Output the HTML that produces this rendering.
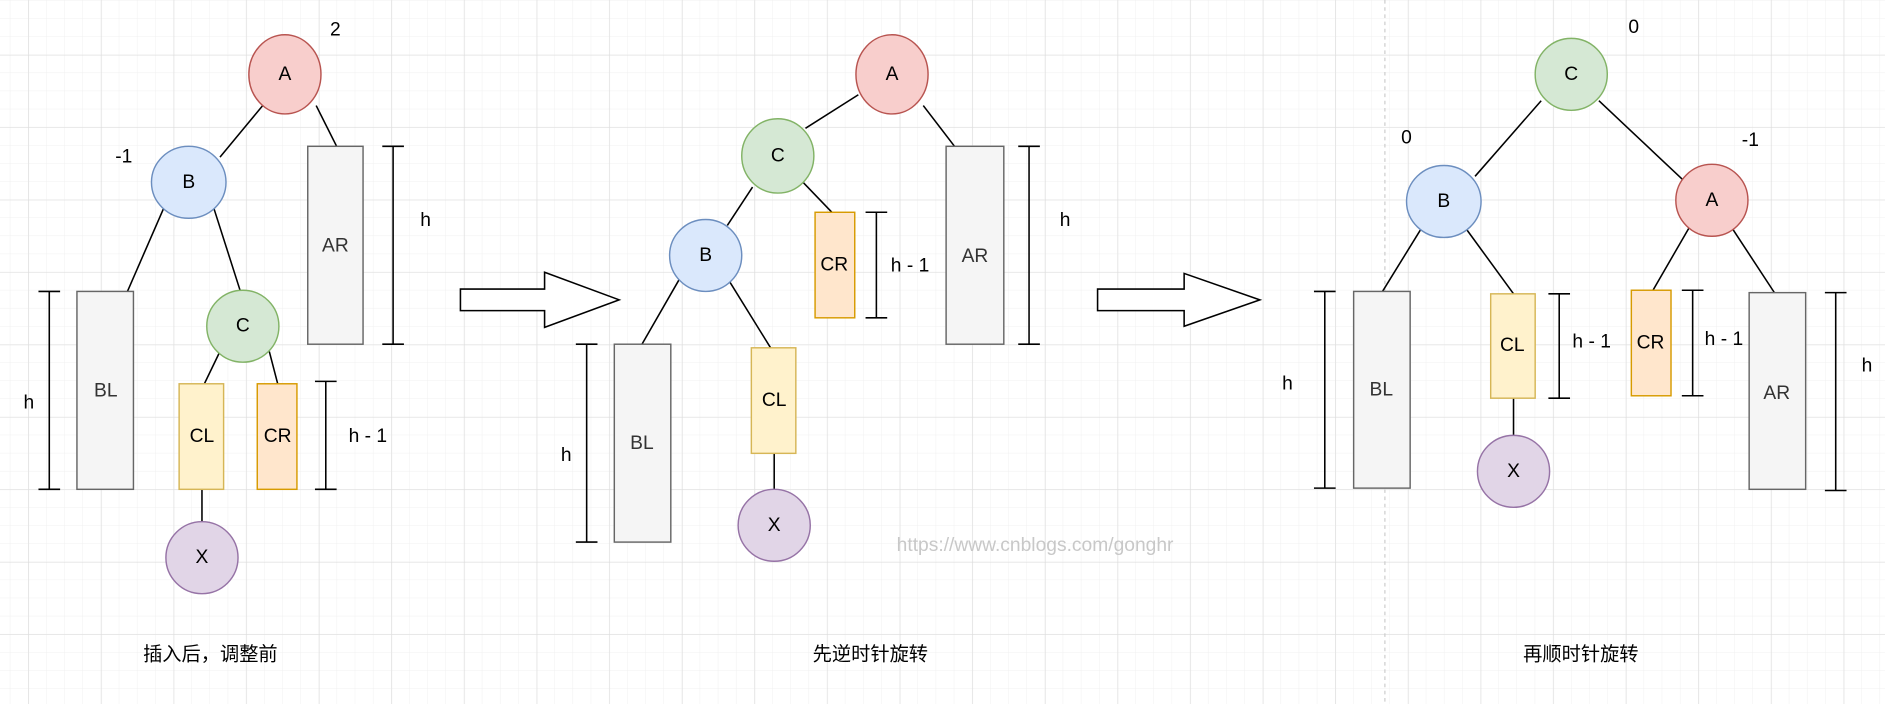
<!DOCTYPE html>
<html><head><meta charset="utf-8"><style>
html,body{margin:0;padding:0;background:#fff;width:1885px;height:704px;overflow:hidden}
svg{display:block}
text{font-family:"Liberation Sans","Noto Sans CJK SC",sans-serif;font-size:16px}
</style></head><body>
<svg width="1885" height="704" viewBox="0 0 1568 587" preserveAspectRatio="none" xmlns="http://www.w3.org/2000/svg">
<defs>
<pattern id="minor" width="15.1" height="15.1" patternUnits="userSpaceOnUse" x="23.7" y="45.8">
<path d="M15.1 0V15.1M0 15.1H15.1" stroke="#f0f0f0" stroke-width="0.8" fill="none"/></pattern>
<pattern id="major" width="60.4" height="60.4" patternUnits="userSpaceOnUse" x="23.7" y="45.8">
<path d="M0 0V60.4M0 0H60.4" stroke="#dcdcdc" stroke-width="0.9" fill="none"/></pattern>
</defs>
<rect width="1568" height="587" fill="url(#minor)"/>
<rect width="1568" height="587" fill="url(#major)"/>
<line x1="1152" y1="0" x2="1152" y2="587" stroke="#ccc" stroke-dasharray="3,3"/>
<g stroke="#000" stroke-width="1.3" fill="none">
<line x1="221" y1="85" x2="183" y2="131"/><line x1="263" y1="88" x2="280" y2="122"/>
<line x1="136" y1="174" x2="106" y2="243"/><line x1="178" y1="174" x2="200" y2="243"/>
<line x1="183" y1="293" x2="170" y2="320"/><line x1="224" y1="293" x2="231" y2="320"/>
<line x1="168" y1="408" x2="168" y2="436"/>
<path d="M327 122V287M318 122H336M318 287H336"/>
<path d="M41 243V408M32 243H50M32 408H50"/>
<path d="M271 318V408M262 318H280M262 408H280"/>
<line x1="714" y1="79" x2="670" y2="107"/><line x1="768" y1="88" x2="794" y2="122"/>
<line x1="668" y1="152" x2="692" y2="177"/><line x1="626" y1="156" x2="605" y2="188"/>
<line x1="565" y1="233" x2="534" y2="287"/><line x1="607" y1="235" x2="641" y2="290"/>
<line x1="644" y1="378" x2="644" y2="408"/>
<path d="M856 122V287M847 122H865M847 287H865"/>
<path d="M729 177V265M720 177H738M720 265H738"/>
<path d="M488 287V452M479 287H497M479 452H497"/>
<line x1="1282" y1="84" x2="1227" y2="147"/><line x1="1330" y1="84" x2="1400" y2="150"/>
<line x1="1182" y1="191" x2="1150" y2="243"/><line x1="1219" y1="190" x2="1259" y2="245"/>
<line x1="1405" y1="190" x2="1375" y2="242"/><line x1="1440" y1="189" x2="1476" y2="244"/>
<line x1="1259" y1="332" x2="1259" y2="363"/>
<path d="M1102 243V407M1093 243H1111M1093 407H1111"/>
<path d="M1297 245V332M1288 245H1306M1288 332H1306"/>
<path d="M1408 242V330M1399 242H1417M1399 330H1417"/>
<path d="M1527 244V409M1518 244H1536M1518 409H1536"/>
<path d="M383 241H453V227L515 250L453 273V259H383Z" fill="#fff"/>
<path d="M913 241H985V228L1048 250L985 272V259H913Z" fill="#fff"/>
</g>
<g stroke-width="1.2">
<ellipse cx="237" cy="62" rx="30" ry="33" fill="#f8cecc" stroke="#b85450"/>
<ellipse cx="157" cy="152" rx="31" ry="30" fill="#dae8fc" stroke="#6c8ebf"/>
<ellipse cx="202" cy="272" rx="30" ry="30" fill="#d5e8d4" stroke="#82b366"/>
<ellipse cx="168" cy="465" rx="30" ry="30" fill="#e1d5e7" stroke="#9673a6"/>
<rect x="256" y="122" width="46" height="165" fill="#f5f5f5" stroke="#666"/>
<rect x="64" y="243" width="47" height="165" fill="#f5f5f5" stroke="#666"/>
<rect x="149" y="320" width="37" height="88" fill="#fff2cc" stroke="#d6b656"/>
<rect x="214" y="320" width="33" height="88" fill="#ffe6cc" stroke="#d79b00"/>
<ellipse cx="742" cy="62" rx="30" ry="33" fill="#f8cecc" stroke="#b85450"/>
<ellipse cx="647" cy="130" rx="30" ry="31" fill="#d5e8d4" stroke="#82b366"/>
<ellipse cx="587" cy="213" rx="30" ry="30" fill="#dae8fc" stroke="#6c8ebf"/>
<ellipse cx="644" cy="438" rx="30" ry="30" fill="#e1d5e7" stroke="#9673a6"/>
<rect x="787" y="122" width="48" height="165" fill="#f5f5f5" stroke="#666"/>
<rect x="678" y="177" width="33" height="88" fill="#ffe6cc" stroke="#d79b00"/>
<rect x="511" y="287" width="47" height="165" fill="#f5f5f5" stroke="#666"/>
<rect x="625" y="290" width="37" height="88" fill="#fff2cc" stroke="#d6b656"/>
<ellipse cx="1307" cy="62" rx="30" ry="30" fill="#d5e8d4" stroke="#82b366"/>
<ellipse cx="1201" cy="168" rx="31" ry="30" fill="#dae8fc" stroke="#6c8ebf"/>
<ellipse cx="1424" cy="167" rx="30" ry="30" fill="#f8cecc" stroke="#b85450"/>
<ellipse cx="1259" cy="393" rx="30" ry="30" fill="#e1d5e7" stroke="#9673a6"/>
<rect x="1126" y="243" width="47" height="164" fill="#f5f5f5" stroke="#666"/>
<rect x="1240" y="245" width="37" height="87" fill="#fff2cc" stroke="#d6b656"/>
<rect x="1357" y="242" width="33" height="88" fill="#ffe6cc" stroke="#d79b00"/>
<rect x="1455" y="244" width="47" height="164" fill="#f5f5f5" stroke="#666"/>
</g>
<g text-anchor="middle" dominant-baseline="central" style="fill:#000">
<text x="237" y="62">A</text><text x="157" y="152">B</text><text x="202" y="272">C</text><text x="168" y="465">X</text>
<text x="279" y="205" style="fill:#333">AR</text><text x="88" y="326" style="fill:#333">BL</text>
<text x="168" y="364">CL</text><text x="231" y="364">CR</text>
<text x="279" y="25">2</text><text x="103" y="131">-1</text>
<text x="354" y="184">h</text><text x="24" y="336">h</text><text x="306" y="364">h - 1</text>
<text x="175" y="546">插入后，调整前</text>
<text x="742" y="62">A</text><text x="647" y="130">C</text><text x="587" y="213">B</text><text x="644" y="438">X</text>
<text x="811" y="214" style="fill:#333">AR</text><text x="694" y="221">CR</text>
<text x="534" y="370" style="fill:#333">BL</text><text x="644" y="334">CL</text>
<text x="886" y="184">h</text><text x="757" y="222">h - 1</text><text x="471" y="380">h</text>
<text x="724" y="546">先逆时针旋转</text>
<text x="861" y="455" style="fill:#c8c8c8">https://www.cnblogs.com/gonghr</text>
<text x="1307" y="62">C</text><text x="1201" y="168">B</text><text x="1424" y="167">A</text><text x="1259" y="393">X</text>
<text x="1359" y="23">0</text><text x="1170" y="115">0</text><text x="1456" y="117">-1</text>
<text x="1149" y="325" style="fill:#333">BL</text><text x="1258" y="288">CL</text><text x="1373" y="286">CR</text><text x="1478" y="328" style="fill:#333">AR</text>
<text x="1071" y="320">h</text><text x="1324" y="285">h - 1</text><text x="1434" y="283">h - 1</text><text x="1553" y="305">h</text>
<text x="1315" y="546">再顺时针旋转</text>
</g>
</svg>
</body></html>
